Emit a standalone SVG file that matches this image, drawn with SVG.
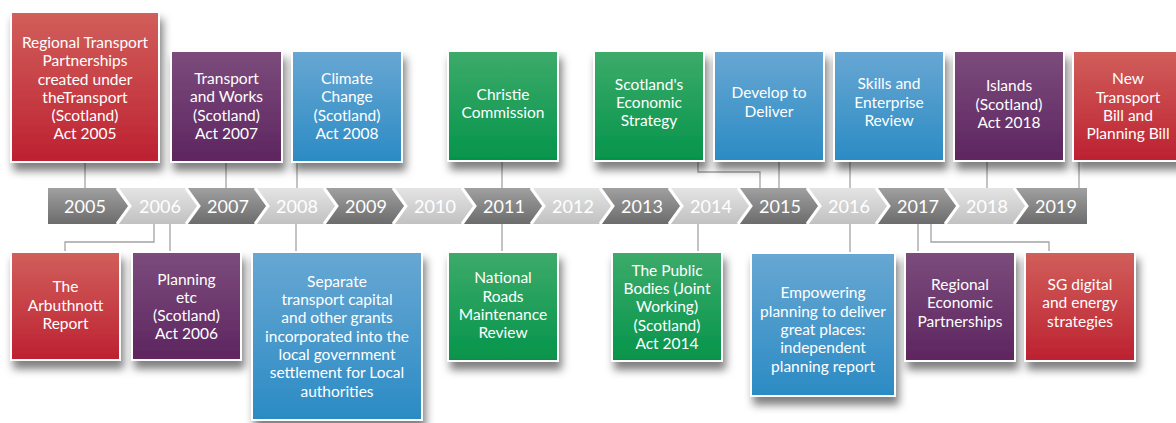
<svg xmlns="http://www.w3.org/2000/svg" width="1176" height="423" viewBox="0 0 1176 423">
<defs>
<linearGradient id="gRed" x1="0" y1="0" x2="0" y2="1"><stop offset="0" stop-color="#d15f5b"/><stop offset="1" stop-color="#bd2131"/></linearGradient>
<linearGradient id="gPur" x1="0" y1="0" x2="0" y2="1"><stop offset="0" stop-color="#7c4c7c"/><stop offset="1" stop-color="#5d2560"/></linearGradient>
<linearGradient id="gBlu" x1="0" y1="0" x2="0" y2="1"><stop offset="0" stop-color="#68a7d3"/><stop offset="1" stop-color="#2b8bc4"/></linearGradient>
<linearGradient id="gGrn" x1="0" y1="0" x2="0" y2="1"><stop offset="0" stop-color="#3dab6a"/><stop offset="1" stop-color="#05944b"/></linearGradient>
<linearGradient id="gDark" x1="0" y1="0" x2="0" y2="1"><stop offset="0" stop-color="#a0a0a0"/><stop offset="1" stop-color="#6c6c6c"/></linearGradient>
<linearGradient id="gLight" x1="0" y1="0" x2="0" y2="1"><stop offset="0" stop-color="#e4e4e4"/><stop offset="1" stop-color="#c1c1c1"/></linearGradient>
<filter id="sh" x="-20%" y="-20%" width="150%" height="150%"><feDropShadow dx="3" dy="8" stdDeviation="4.5" flood-color="#000" flood-opacity="0.5"/></filter>
</defs>
<style>
.box{stroke:#fff;stroke-width:2;filter:url(#sh)}
.t{fill:#fff;font-family:Lato,"Open Sans",sans-serif;font-size:15.5px;text-anchor:middle}
.yr{fill:#fff;font-family:Lato,"Open Sans",sans-serif;font-size:18px;text-anchor:middle}
.c{fill:none;stroke:#a3a3a3;stroke-width:1.3}
.sep{fill:none;stroke:#fff;stroke-width:3}
</style>
<rect width="1176" height="423" fill="#fff"/>

<g id="connectors">
<path class="c" d="M85 162V188"/>
<path class="c" d="M226 162V188"/>
<path class="c" d="M297 162V188"/>
<path class="c" d="M502 161V188"/>
<path class="c" d="M698 161V172H760V188"/>
<path class="c" d="M779 161V188"/>
<path class="c" d="M850 161V188"/>
<path class="c" d="M987 161V188"/>
<path class="c" d="M1079 161V188"/>
<path class="c" d="M154 224V242H65V252"/>
<path class="c" d="M170 224V252"/>
<path class="c" d="M296 224V252"/>
<path class="c" d="M502 224V252"/>
<path class="c" d="M698 224V252"/>
<path class="c" d="M850 224V253"/>
<path class="c" d="M918 224V252"/>
<path class="c" d="M931 224V242H1049V252"/>
</g>

<g id="timeline">
<polygon fill="url(#gDark)" points="48,188 117,188 130,206 117,224 48,224"/>
<polygon fill="url(#gLight)" points="117,188 186,188 199,206 186,224 117,224 130,206"/>
<polygon fill="url(#gDark)" points="186,188 255,188 268,206 255,224 186,224 199,206"/>
<polygon fill="url(#gLight)" points="255,188 324,188 337,206 324,224 255,224 268,206"/>
<polygon fill="url(#gDark)" points="324,188 393,188 406,206 393,224 324,224 337,206"/>
<polygon fill="url(#gLight)" points="393,188 462,188 475,206 462,224 393,224 406,206"/>
<polygon fill="url(#gDark)" points="462,188 531,188 544,206 531,224 462,224 475,206"/>
<polygon fill="url(#gLight)" points="531,188 600,188 613,206 600,224 531,224 544,206"/>
<polygon fill="url(#gDark)" points="600,188 669,188 682,206 669,224 600,224 613,206"/>
<polygon fill="url(#gLight)" points="669,188 738,188 751,206 738,224 669,224 682,206"/>
<polygon fill="url(#gDark)" points="738,188 807,188 820,206 807,224 738,224 751,206"/>
<polygon fill="url(#gLight)" points="807,188 876,188 889,206 876,224 807,224 820,206"/>
<polygon fill="url(#gDark)" points="876,188 945,188 958,206 945,224 876,224 889,206"/>
<polygon fill="url(#gLight)" points="945,188 1014,188 1027,206 1014,224 945,224 958,206"/>
<polygon fill="url(#gDark)" points="1014,188 1087,188 1087,224 1014,224 1027,206"/>
<polyline class="sep" points="117,188 130,206 117,224"/>
<polyline class="sep" points="186,188 199,206 186,224"/>
<polyline class="sep" points="255,188 268,206 255,224"/>
<polyline class="sep" points="324,188 337,206 324,224"/>
<polyline class="sep" points="393,188 406,206 393,224"/>
<polyline class="sep" points="462,188 475,206 462,224"/>
<polyline class="sep" points="531,188 544,206 531,224"/>
<polyline class="sep" points="600,188 613,206 600,224"/>
<polyline class="sep" points="669,188 682,206 669,224"/>
<polyline class="sep" points="738,188 751,206 738,224"/>
<polyline class="sep" points="807,188 820,206 807,224"/>
<polyline class="sep" points="876,188 889,206 876,224"/>
<polyline class="sep" points="945,188 958,206 945,224"/>
<polyline class="sep" points="1014,188 1027,206 1014,224"/>
<text class="yr" x="85" y="213">2005</text>
<text class="yr" x="160" y="213">2006</text>
<text class="yr" x="228" y="213">2007</text>
<text class="yr" x="297" y="213">2008</text>
<text class="yr" x="366" y="213">2009</text>
<text class="yr" x="435" y="213">2010</text>
<text class="yr" x="504" y="213">2011</text>
<text class="yr" x="573" y="213">2012</text>
<text class="yr" x="642" y="213">2013</text>
<text class="yr" x="711" y="213">2014</text>
<text class="yr" x="780" y="213">2015</text>
<text class="yr" x="849" y="213">2016</text>
<text class="yr" x="918" y="213">2017</text>
<text class="yr" x="987" y="213">2018</text>
<text class="yr" x="1056" y="213">2019</text>
</g>

<g id="n2005a"><rect class="box" x="11" y="12" width="148" height="150" fill="url(#gRed)"/>
<text class="t" x="85" y="48">Regional Transport</text><text class="t" x="85" y="66">Partnerships</text><text class="t" x="85" y="84.5">created under</text><text class="t" x="85" y="102.5">theTransport</text><text class="t" x="85" y="121">(Scotland)</text><text class="t" x="85" y="139">Act 2005</text></g>
<g id="n2007"><rect class="box" x="171" y="51" width="111" height="111" fill="url(#gPur)"/>
<text class="t" x="226.5" y="84">Transport</text><text class="t" x="226.5" y="102.3">and Works</text><text class="t" x="226.5" y="120.7">(Scotland)</text><text class="t" x="226.5" y="139">Act 2007</text></g>
<g id="n2008a"><rect class="box" x="292" y="51" width="110" height="111" fill="url(#gBlu)"/>
<text class="t" x="347" y="84">Climate</text><text class="t" x="347" y="102.3">Change</text><text class="t" x="347" y="120.7">(Scotland)</text><text class="t" x="347" y="139">Act 2008</text></g>
<g id="n2011a"><rect class="box" x="448" y="51" width="110" height="110" fill="url(#gGrn)"/>
<text class="t" x="503" y="100">Christie</text><text class="t" x="503" y="118">Commission</text></g>
<g id="n2015a"><rect class="box" x="594" y="51" width="110" height="110" fill="url(#gGrn)"/>
<text class="t" x="649" y="90">Scotland's</text><text class="t" x="649" y="108">Economic</text><text class="t" x="649" y="126">Strategy</text></g>
<g id="n2015b"><rect class="box" x="714" y="51" width="110" height="110" fill="url(#gBlu)"/>
<text class="t" x="769" y="98">Develop to</text><text class="t" x="769" y="116.5">Deliver</text></g>
<g id="n2016a"><rect class="box" x="834" y="51" width="110" height="110" fill="url(#gBlu)"/>
<text class="t" x="889" y="89">Skills and</text><text class="t" x="889" y="107.5">Enterprise</text><text class="t" x="889" y="126">Review</text></g>
<g id="n2018"><rect class="box" x="954" y="51" width="110" height="110" fill="url(#gPur)"/>
<text class="t" x="1009" y="91">Islands</text><text class="t" x="1009" y="109.5">(Scotland)</text><text class="t" x="1009" y="128">Act 2018</text></g>
<g id="n2019"><rect class="box" x="1073" y="51" width="110" height="110" fill="url(#gRed)"/>
<text class="t" x="1128" y="84">New</text><text class="t" x="1128" y="102.5">Transport</text><text class="t" x="1128" y="121">Bill and</text><text class="t" x="1128" y="139">Planning Bill</text></g>

<g id="n2006a"><rect class="box" x="11" y="252" width="109" height="108" fill="url(#gRed)"/>
<text class="t" x="65.5" y="292.3">The</text><text class="t" x="65.5" y="311">Arbuthnott</text><text class="t" x="65.5" y="329.3">Report</text></g>
<g id="n2006b"><rect class="box" x="132" y="252" width="109" height="108" fill="url(#gPur)"/>
<text class="t" x="186.5" y="285">Planning</text><text class="t" x="186.5" y="302.7">etc</text><text class="t" x="186.5" y="321">(Scotland)</text><text class="t" x="186.5" y="339.3">Act 2006</text></g>
<g id="n2008b"><rect class="box" x="252" y="252" width="170" height="168" fill="url(#gBlu)"/>
<text class="t" x="337" y="286.7">Separate</text><text class="t" x="337" y="305">transport capital</text><text class="t" x="337" y="323.3">and other grants</text><text class="t" x="337" y="341.7">incorporated into the</text><text class="t" x="337" y="360">local government</text><text class="t" x="337" y="378.3">settlement for Local</text><text class="t" x="337" y="396.7">authorities</text></g>
<g id="n2011b"><rect class="box" x="448" y="252" width="110" height="109" fill="url(#gGrn)"/>
<text class="t" x="503" y="283.3">National</text><text class="t" x="503" y="301.7">Roads</text><text class="t" x="503" y="320">Maintenance</text><text class="t" x="503" y="338.3">Review</text></g>
<g id="n2014"><rect class="box" x="612" y="252" width="110" height="109" fill="url(#gGrn)"/>
<text class="t" x="667" y="275.7">The Public</text><text class="t" x="667" y="294">Bodies (Joint</text><text class="t" x="667" y="312.3">Working)</text><text class="t" x="667" y="330.7">(Scotland)</text><text class="t" x="667" y="349">Act 2014</text></g>
<g id="n2016b"><rect class="box" x="751" y="253" width="144" height="143" fill="url(#gBlu)"/>
<text class="t" x="823" y="298.3">Empowering</text><text class="t" x="823" y="316.7">planning to deliver</text><text class="t" x="823" y="335">great places:</text><text class="t" x="823" y="353.3">independent</text><text class="t" x="823" y="371.7">planning report</text></g>
<g id="n2017a"><rect class="box" x="905" y="252" width="110" height="109" fill="url(#gPur)"/>
<text class="t" x="960" y="290">Regional</text><text class="t" x="960" y="308.3">Economic</text><text class="t" x="960" y="326.7">Partnerships</text></g>
<g id="n2017b"><rect class="box" x="1025" y="252" width="110" height="109" fill="url(#gRed)"/>
<text class="t" x="1080" y="290">SG digital</text><text class="t" x="1080" y="308.3">and energy</text><text class="t" x="1080" y="326.7">strategies</text></g>
</svg>
